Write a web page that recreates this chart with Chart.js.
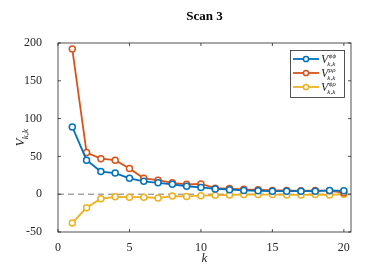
<!DOCTYPE html>
<html><head><meta charset="utf-8">
<script src="https://cdn.jsdelivr.net/npm/chart.js@4"></script>
<style>html,body{margin:0;padding:0;background:#fff}#c{display:block}</style>
</head><body>
<canvas id="c" width="374" height="280"></canvas>
<script>
const ks = [1,2,3,4,5,6,7,8,9,10,11,12,13,14,15,16,17,18,19,20];
const vPhiPhi = [89,45,30,28,21,17,15,13,10.5,9,7,6,5,4.5,4,4,4,4,5,4.5];
const vRhoRho = [192,55,47,45,34,21,18.5,15,13,13.5,8,7.5,6.5,6,5,5,4.5,5,4.5,2];
const vPhiRho = [-38,-18,-6,-3.5,-4,-4,-5,-2.5,-3,-2,-1.5,-1,-0.5,-0.5,-0.5,-1,-1,-0.5,-1,0];
const xTicks = [0,5,10,15,20];
const yTicks = [-50,0,50,100,150,200];
const seriesSup = ['\u03d5\u03d5','\u03c1\u03c1','\u03d5\u03c1'];
const seriesColors = ['#0072BD','#D95319','#EDB120'];
const titleText = 'Scan 3';
const xLabel = 'k';

const SERIF = '"Liberation Serif", "DejaVu Serif", serif';
const AX = '#262626';

function mkData(vals){ return ks.map((k,i)=>({x:k,y:vals[i]})); }

function drawV(ctx, x, y, sup, size){
  ctx.save();
  ctx.textBaseline = 'alphabetic';
  ctx.textAlign = 'left';
  ctx.font = 'italic ' + size + 'px ' + SERIF;
  ctx.fillText('V', x, y);
  const vw = ctx.measureText('V').width;
  ctx.font = 'italic 7px ' + SERIF;
  ctx.fillText(sup, x+vw+0.5, y - size*0.42);
  ctx.fillText('k,k', x+vw-1, y + size*0.25);
  ctx.restore();
}

const framePlugin = {
  id:'frame',
  beforeDatasetsDraw(chart){
    const {ctx, chartArea:a, scales:{x,y}} = chart;
    const py = y.getPixelForValue(0);
    ctx.save();
    ctx.strokeStyle = '#555';
    ctx.lineWidth = 0.8;
    ctx.setLineDash([6,4]);
    ctx.beginPath(); ctx.moveTo(a.left, py); ctx.lineTo(a.right, py); ctx.stroke();
    ctx.restore();
  },
  afterDraw(chart){
    const {ctx, chartArea:a, scales:{x,y}} = chart;
    ctx.save();
    ctx.strokeStyle = AX;
    ctx.lineWidth = 0.8;
    ctx.strokeRect(a.left, a.top, a.right-a.left, a.bottom-a.top);
    const tl = 3;
    ctx.beginPath();
    xTicks.forEach(v=>{ const p = x.getPixelForValue(v);
      ctx.moveTo(p,a.bottom); ctx.lineTo(p,a.bottom-tl);
      ctx.moveTo(p,a.top); ctx.lineTo(p,a.top+tl); });
    yTicks.forEach(v=>{ const p = y.getPixelForValue(v);
      ctx.moveTo(a.left,p); ctx.lineTo(a.left+tl,p);
      ctx.moveTo(a.right,p); ctx.lineTo(a.right-tl,p); });
    ctx.stroke();

    // title
    ctx.fillStyle = '#000';
    ctx.font = 'bold 13px ' + SERIF;
    ctx.textAlign = 'center'; ctx.textBaseline = 'middle';
    ctx.fillText(titleText, (a.left+a.right)/2, 17);

    // x label
    ctx.fillStyle = AX;
    ctx.font = 'italic 13px ' + SERIF;
    ctx.fillText(xLabel, (a.left+a.right)/2, 259);

    // y label
    ctx.save();
    ctx.translate(24, (a.top+a.bottom)/2);
    ctx.rotate(-Math.PI/2);
    ctx.font = 'italic 13px ' + SERIF;
    const vw = ctx.measureText('V').width;
    ctx.font = 'italic 9px ' + SERIF;
    const sw = ctx.measureText('k,k').width;
    const tw = vw + sw;
    ctx.font = 'italic 13px ' + SERIF;
    ctx.textAlign='left'; ctx.textBaseline='alphabetic';
    ctx.fillText('V', -tw/2, 0);
    ctx.font = 'italic 9px ' + SERIF;
    ctx.fillText('k,k', -tw/2+vw-0.5, 3.5);
    ctx.restore();

    // legend
    const lx = 290.5, ly = 50.5, lw = 54, lh = 47;
    ctx.fillStyle = '#fff';
    ctx.fillRect(lx, ly, lw, lh);
    ctx.strokeStyle = AX; ctx.lineWidth = 0.8;
    ctx.strokeRect(lx, ly, lw, lh);
    const rows = [59, 73, 87];
    rows.forEach((ry,i)=>{
      ctx.strokeStyle = seriesColors[i];
      ctx.lineWidth = 1.8;
      ctx.beginPath(); ctx.moveTo(293, ry); ctx.lineTo(319, ry); ctx.stroke();
      ctx.fillStyle = '#fff';
      ctx.lineWidth = 1.5;
      ctx.beginPath(); ctx.arc(306, ry, 2.6, 0, Math.PI*2); ctx.fill(); ctx.stroke();
      ctx.fillStyle = AX;
      drawV(ctx, 321, ry+4, seriesSup[i], 12);
    });
    ctx.restore();
  }
};

const mkSet = (vals, i) => ({
  data: mkData(vals),
  borderColor: seriesColors[i],
  backgroundColor: seriesColors[i],
  borderWidth: 1.8,
  pointRadius: 3,
  pointBorderWidth: 1.5,
  pointBackgroundColor: '#fff',
  pointBorderColor: seriesColors[i],
  tension: 0,
  clip: false
});

new Chart(document.getElementById('c'), {
  type: 'line',
  data: { datasets: [mkSet(vPhiPhi,0), mkSet(vRhoRho,1), mkSet(vPhiRho,2)] },
  options: {
    responsive: false,
    animation: false,
    events: [],
    layout: { padding: { left: 0, right: 23, top: 43, bottom: 0 } },
    plugins: { legend: { display: false }, title: { display: false }, tooltip: { enabled: false } },
    scales: {
      x: {
        type: 'linear', min: 0, max: 20.5,
        grid: { display: false }, border: { display: false },
        afterBuildTicks: s => { s.ticks = xTicks.map(v => ({ value: v })); },
        afterFit: s => { s.height = 48; },
        ticks: { color: AX, font: { family: SERIF, size: 12 }, padding: 1, maxRotation: 0 }
      },
      y: {
        type: 'linear', min: -50, max: 200,
        grid: { display: false }, border: { display: false },
        afterBuildTicks: s => { s.ticks = yTicks.map(v => ({ value: v })); },
        afterFit: s => { s.width = 58; },
        ticks: { color: AX, font: { family: SERIF, size: 12 }, padding: 8 }
      }
    }
  },
  plugins: [framePlugin]
});
</script>
</body></html>
